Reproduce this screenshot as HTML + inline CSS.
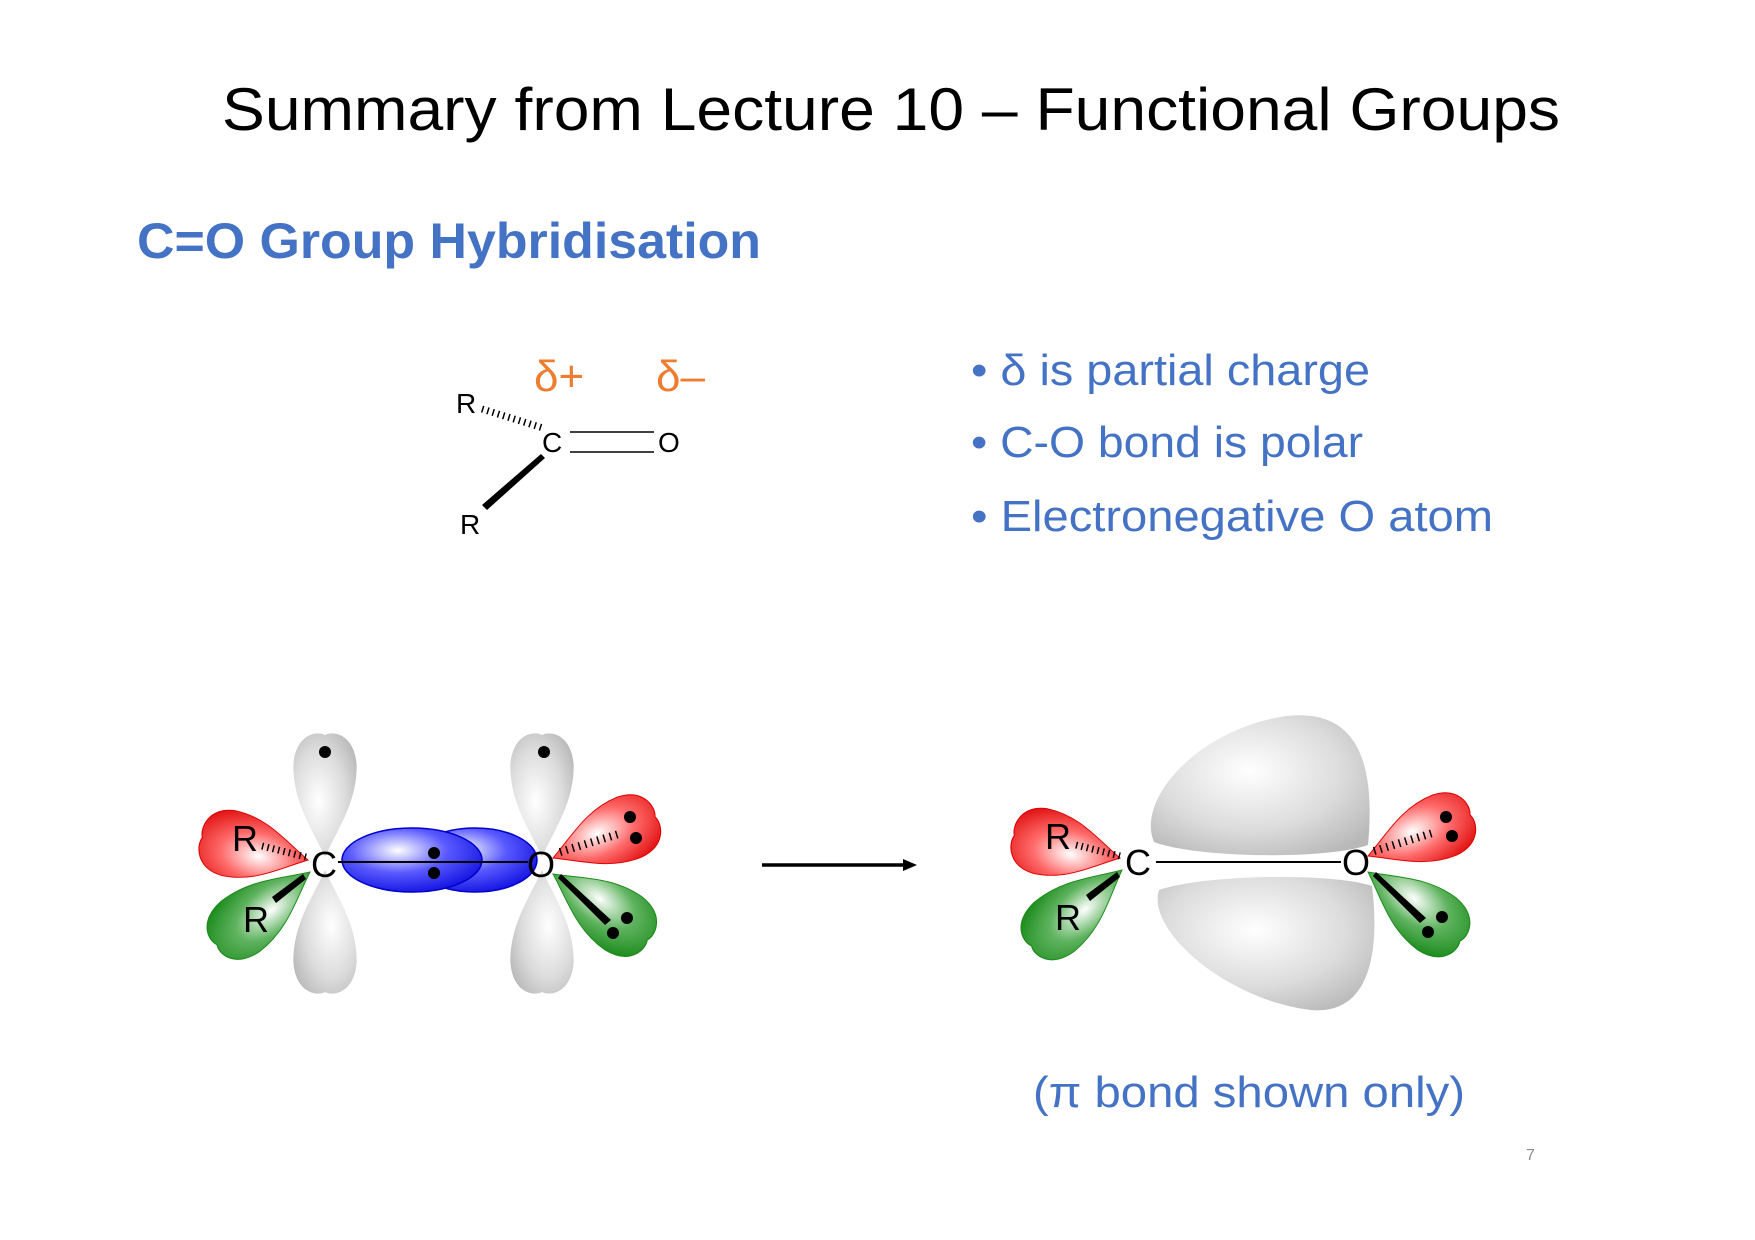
<!DOCTYPE html>
<html><head><meta charset="utf-8"><style>
html,body{margin:0;padding:0;background:#fff;}
svg{display:block;}
</style></head><body>
<svg width="1755" height="1240" viewBox="0 0 1755 1240" xmlns="http://www.w3.org/2000/svg">
<defs>
<radialGradient id="gGray" cx="0.45" cy="0.4" r="0.7"><stop offset="0" stop-color="#ffffff"/><stop offset="0.6" stop-color="#dcdcdc"/><stop offset="1" stop-color="#b8b8b8"/></radialGradient>
<radialGradient id="gRed" cx="0.45" cy="0.4" r="0.7"><stop offset="0" stop-color="#ffffff"/><stop offset="0.5" stop-color="#ff6a6a"/><stop offset="1" stop-color="#e01010"/></radialGradient>
<radialGradient id="gGreen" cx="0.45" cy="0.4" r="0.7"><stop offset="0" stop-color="#ffffff"/><stop offset="0.5" stop-color="#5fb35f"/><stop offset="1" stop-color="#1a8a1a"/></radialGradient>
<radialGradient id="gBlue" cx="0.4" cy="0.35" r="0.7"><stop offset="0" stop-color="#ffffff"/><stop offset="0.5" stop-color="#5a5aff"/><stop offset="1" stop-color="#1010e0"/></radialGradient>
<path id="lobe" d="M0,0 C25,-16 45,-36 75,-36 C100,-34 104,-10 100,0 C104,10 100,34 75,36 C45,36 25,16 0,0Z"/>
</defs>

<text x="891" y="130" text-anchor="middle" font-family="Liberation Sans, sans-serif" font-size="60" fill="#000" textLength="1338" lengthAdjust="spacingAndGlyphs">Summary from Lecture 10 – Functional Groups</text>
<text x="137" y="258" font-family="Liberation Sans, sans-serif" font-weight="bold" font-size="50" fill="#4472C4" textLength="624" lengthAdjust="spacingAndGlyphs">C=O Group Hybridisation</text>

<g font-family="Liberation Sans, sans-serif" font-size="44" fill="#4472C4">
<text x="971" y="385" textLength="399" lengthAdjust="spacingAndGlyphs">• δ is partial charge</text>
<text x="971" y="457" textLength="392" lengthAdjust="spacingAndGlyphs">• C-O bond is polar</text>
<text x="971" y="531" textLength="522" lengthAdjust="spacingAndGlyphs">• Electronegative O atom</text>
</g>

<g font-family="Liberation Sans, sans-serif" font-size="28" fill="#000">
<text x="534" y="391" font-size="44" fill="#ED7D31">δ+</text>
<text x="656" y="391" font-size="44" fill="#ED7D31">δ–</text>
<text x="456" y="413">R</text>
<text x="542" y="452">C</text>
<text x="658" y="452">O</text>
<text x="460" y="534">R</text>
<line x1="570" y1="432" x2="654" y2="432" stroke="#000" stroke-width="1.6"/>
<line x1="570" y1="452" x2="654" y2="452" stroke="#000" stroke-width="1.6"/>
<line x1="482" y1="409" x2="543" y2="428" stroke="#000" stroke-width="7" stroke-dasharray="1.5 4"/>
<polygon points="541,454 545,458 487,510 482,505" fill="#000"/>
</g>

<g>
<use href="#lobe" fill="url(#gGray)" transform="translate(325,857) rotate(-90) scale(1.22,0.88)"/>
<use href="#lobe" fill="url(#gGray)" transform="translate(325,870) rotate(90) scale(1.22,0.88)"/>
<use href="#lobe" fill="url(#gGray)" transform="translate(542,857) rotate(-90) scale(1.22,0.88)"/>
<use href="#lobe" fill="url(#gGray)" transform="translate(542,870) rotate(90) scale(1.22,0.88)"/>
<use href="#lobe" fill="url(#gRed)" stroke="#d00" stroke-width="1" transform="translate(308,860) rotate(-168) scale(1.08,0.92)"/>
<use href="#lobe" fill="url(#gGreen)" stroke="#1a8a1a" stroke-width="1" transform="translate(310,872) rotate(142) scale(1.18,0.88)"/>
<use href="#lobe" fill="url(#gRed)" stroke="#d00" stroke-width="1" transform="translate(553,858) rotate(-22) scale(1.1,0.9)"/>
<use href="#lobe" fill="url(#gGreen)" stroke="#1a8a1a" stroke-width="1" transform="translate(553,874) rotate(35) scale(1.15,0.9)"/>
<ellipse cx="475" cy="860" rx="62" ry="32" fill="url(#gBlue)" stroke="#00c" stroke-width="1.5"/>
<ellipse cx="412" cy="860" rx="70" ry="32" fill="url(#gBlue)" stroke="#00c" stroke-width="1.5"/>
<line x1="338" y1="862" x2="528" y2="862" stroke="#000" stroke-width="2"/>
<g fill="#000">
<circle cx="325" cy="752" r="6"/><circle cx="544" cy="752" r="6"/>
<circle cx="434" cy="853" r="6"/><circle cx="434" cy="873" r="6"/>
<circle cx="630" cy="817" r="6"/><circle cx="636" cy="838" r="6"/>
<circle cx="613" cy="933" r="6"/><circle cx="627" cy="918" r="6"/>
</g>
<line x1="262" y1="846" x2="306" y2="857" stroke="#000" stroke-width="7" stroke-dasharray="1.5 4"/>
<line x1="560" y1="852" x2="622" y2="833" stroke="#000" stroke-width="8" stroke-dasharray="1.5 5"/>
<polygon points="303,874 306,879 276,903 272,897" fill="#000"/>
<polygon points="558,878 561,874 611,920 605,925" fill="#000"/>
<g font-family="Liberation Sans, sans-serif" font-size="36" fill="#000">
<text x="232" y="851">R</text><text x="243" y="932">R</text>
<text x="311" y="877">C</text><text x="527" y="877">O</text>
</g>
</g>

<g>
<line x1="762" y1="865" x2="905" y2="865" stroke="#000" stroke-width="3.5"/>
<polygon points="917,865 903,859 903,871" fill="#000"/>
</g>

<g transform="translate(-4,0)">
<path d="M1158,842 C1140,800 1200,730 1290,716 C1360,708 1380,760 1372,845 C1330,860 1200,858 1158,842Z" fill="url(#gGray)"/>
<path d="M1163,890 C1205,875 1335,872 1376,886 C1385,960 1370,1015 1315,1010 C1230,1000 1150,930 1163,890Z" fill="url(#gGray)"/>
<use href="#lobe" fill="url(#gRed)" stroke="#d00" stroke-width="1" transform="translate(1124,858) rotate(-168) scale(1.08,0.92)"/>
<use href="#lobe" fill="url(#gGreen)" stroke="#1a8a1a" stroke-width="1" transform="translate(1126,870) rotate(140) scale(1.18,0.88)"/>
<use href="#lobe" fill="url(#gRed)" stroke="#d00" stroke-width="1" transform="translate(1372,856) rotate(-22) scale(1.1,0.9)"/>
<use href="#lobe" fill="url(#gGreen)" stroke="#1a8a1a" stroke-width="1" transform="translate(1372,872) rotate(37) scale(1.15,0.9)"/>
<line x1="1160" y1="862" x2="1345" y2="862" stroke="#000" stroke-width="2"/>
<g fill="#000">
<circle cx="1450" cy="817" r="6"/><circle cx="1456" cy="836" r="6"/>
<circle cx="1432" cy="932" r="6"/><circle cx="1446" cy="917" r="6"/>
</g>
<line x1="1080" y1="845" x2="1124" y2="856" stroke="#000" stroke-width="7" stroke-dasharray="1.5 4"/>
<line x1="1378" y1="851" x2="1440" y2="832" stroke="#000" stroke-width="8" stroke-dasharray="1.5 5"/>
<polygon points="1121,872 1124,877 1094,901 1090,895" fill="#000"/>
<polygon points="1377,876 1380,872 1430,918 1424,923" fill="#000"/>
<g font-family="Liberation Sans, sans-serif" font-size="36" fill="#000">
<text x="1049" y="849">R</text><text x="1059" y="930">R</text>
<text x="1129" y="875">C</text><text x="1346" y="875">O</text>
</g>
</g>

<text x="1033" y="1107" font-family="Liberation Sans, sans-serif" font-size="44" fill="#4472C4" textLength="432" lengthAdjust="spacingAndGlyphs">(π bond shown only)</text>
<text x="1526" y="1160" font-family="Liberation Sans, sans-serif" font-size="16" fill="#8c8c8c">7</text>
</svg>
</body></html>
